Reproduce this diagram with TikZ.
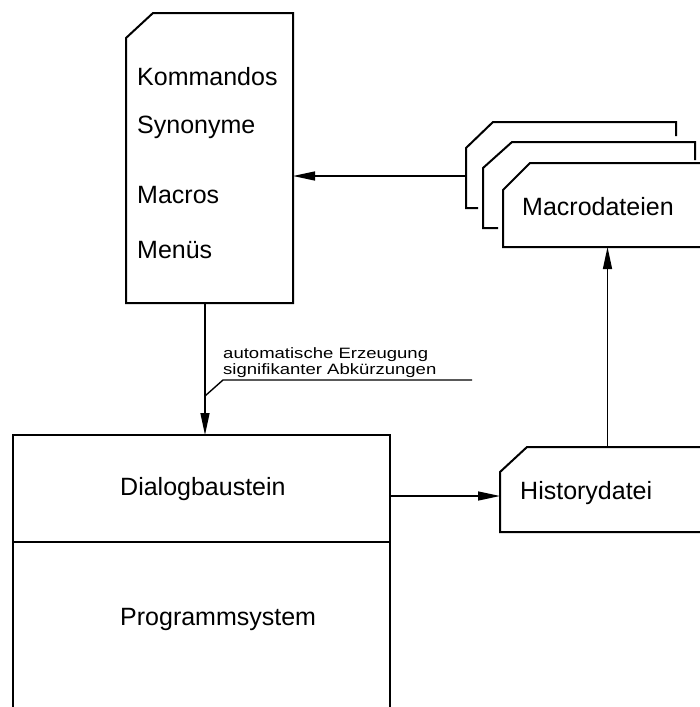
\documentclass[tikz,border=0pt]{standalone}
\usepackage{fontspec}
\setmainfont{Liberation Sans}
\usetikzlibrary{arrows.meta}
\begin{document}
\begin{tikzpicture}[x=1pt,y=-1pt,
  frame/.style={draw=none,rectangle,inner sep=0pt,outer sep=0pt},
  outline/.style={line width=2pt,line join=miter},
  conn/.style={line width=1.4pt},
  tip/.style={-{Triangle[length=22pt,width=9pt]}},
  txt/.style={anchor=base west,inner sep=0pt,font=\fontsize{25}{30}\selectfont}]
\useasboundingbox (0,0) rectangle (700,707);
\clip (0,0) rectangle (700,707);
% Kommandos card
\node[frame,minimum width=167pt,minimum height=290pt] (cmd) at (209.5,158) {};
\draw[outline] ([xshift=27pt]cmd.north west) -| (cmd.south east) -| ([yshift=-25pt]cmd.north west) -- cycle;
\node[txt] (t1) at (137,85) {Kommandos};
\node[txt] (t2) at (137,133) {Synonyme};
\node[txt] (t3) at (137,203) {Macros};
\node[txt] (t4) at (137,258) {Menüs};
% Macrodateien stack
\node[frame,minimum width=210pt,minimum height=86pt] (mac1) at (571,165) {};
\node[frame,minimum width=212pt,minimum height=86pt] (mac2) at (589,185) {};
\node[frame,minimum width=212pt,minimum height=84pt] (mac3) at (609,205) {};
\draw[outline] ([xshift=12pt]mac1.south west) -- (mac1.south west) -- ([yshift=-26pt]mac1.north west) -- ([xshift=27pt]mac1.north west) -- (mac1.north east) -- ([yshift=-14pt]mac1.north east);
\draw[outline] ([xshift=15pt]mac2.south west) -- (mac2.south west) -- ([yshift=-26pt]mac2.north west) -- ([xshift=29pt]mac2.north west) -- (mac2.north east) -- ([yshift=-18pt]mac2.north east);
\draw[outline] ([xshift=27pt]mac3.north west) -| (mac3.south east) -| ([yshift=-27pt]mac3.north west) -- cycle;
\node[txt] (tm) at (522,215) {Macrodateien};
% Dialog / Programmsystem
\node[frame,minimum width=377pt,minimum height=107pt] (dlg) at (201.5,488.5) {};
\node[frame,minimum width=377pt,minimum height=178pt] (prog) at (201.5,631) {};
\draw[outline] (dlg.north west) rectangle (dlg.south east);
\draw[outline] (prog.north west) rectangle (prog.south east);
\node[txt] (td) at (120,495) {Dialogbaustein};
\node[txt] (tp) at (120,625) {Programmsystem};
% Historydatei
\node[frame,minimum width=215pt,minimum height=85pt] (hist) at (607.5,489.5) {};
\draw[outline] ([xshift=27pt]hist.north west) -| (hist.south east) -| ([yshift=-25pt]hist.north west) -- cycle;
\node[txt] (th) at (520,499) {Historydatei};
% connectors
\draw[conn,tip] ([yshift=-11pt]mac1.west) coordinate (s1) -- (s1 -| cmd.east);
\draw[conn,tip] ([xshift=-4.5pt]cmd.south) coordinate (s2) -- (s2 |- dlg.north);
\draw[conn,tip] ([yshift=-7.5pt]dlg.east) coordinate (s3) -- (s3 -| hist.west);
\draw[conn,tip] (hist.north) -- (hist.north |- mac3.south);
% label
\node[anchor=south west,inner sep=0pt,font=\fontsize{15}{16}\selectfont] (lbl) at (223,379)
  {\scalebox{1.235}[1]{\begin{tabular}{@{}l@{}}automatische Erzeugung\\signifikanter Abkürzungen\end{tabular}}};
\coordinate (ue) at (472,380);
\coordinate (uj) at (205,396);
\draw[conn] (ue) -- (lbl.south west |- ue) -- (uj);
\end{tikzpicture}
\end{document}
